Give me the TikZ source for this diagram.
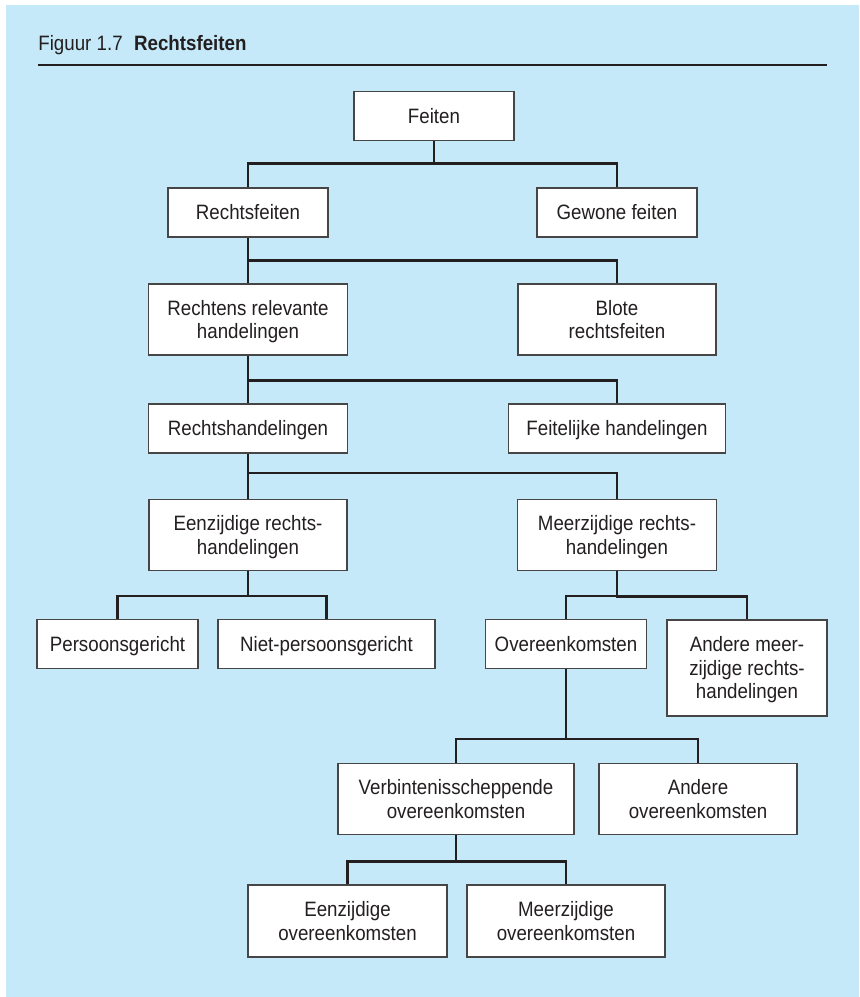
\documentclass[tikz,border=0pt]{standalone}
\usepackage{fontspec}
\setmainfont{Liberation Sans}[FakeStretch=0.9]
\definecolor{achter}{RGB}{197,233,248}
\definecolor{kader}{RGB}{70,70,70}
\definecolor{lijn}{RGB}{35,31,32}
\tikzset{
  vak/.style={draw=kader, fill=white, line width=0.6pt, inner sep=0pt, align=center,
    minimum width=80pt, minimum height=24.5pt, text height=7.3pt, text depth=0pt,
    text=lijn, font=\fontsize{10.4pt}{11.7pt}\selectfont},
  twee/.style={minimum height=35.5pt, text height=19pt},
  drie/.style={minimum height=48pt, text height=30.7pt},
  tak/.style={draw=lijn, line width=1.15pt},
}
\begin{document}
\begin{tikzpicture}[x=0.5pt, y=-0.5pt]
    \useasboundingbox (0,0) rectangle (859,997);
    \fill[achter] (6,5) rectangle (859,997);

    \node[anchor=base west, inner sep=0pt, text=lijn, font=\fontsize{10.4pt}{12pt}\selectfont] (titel) at (38,50)
        {Figuur 1.7\hspace{0.55em}\textbf{Rechtsfeiten}};
    \draw[lijn, line width=1.1pt] (38,65) -- (827,65);

    \node[vak] (feiten) at (434,116) {Feiten};
    \node[vak] (rechtsfeiten) at (248,212.5) {Rechtsfeiten};
    \node[vak] (gewone) at (617,212.5) {Gewone feiten};
    \node[vak, twee, minimum width=99.5pt] (rechtens) at (248,319.5) {Rechtens relevante\\handelingen};
    \node[vak, twee, minimum width=99pt] (blote) at (617,319.5) {Blote\\rechtsfeiten};
    \node[vak, minimum width=99.5pt] (rechtshand) at (248,428.5) {Rechtshandelingen};
    \node[vak, minimum width=108.5pt] (feitelijk) at (617,428.5) {Feitelijke handelingen};
    \node[vak, twee, minimum width=99pt] (eenzijdig) at (248,535) {Eenzijdige rechts-\\handelingen};
    \node[vak, twee, minimum width=99.5pt] (meerzijdig) at (617,535) {Meerzijdige rechts-\\handelingen};
    \node[vak, minimum width=80.5pt] (persoon) at (117.5,644) {Persoonsgericht};
    \node[vak, minimum width=108.5pt] (nietpersoon) at (326.5,644) {Niet-persoonsgericht};
    \node[vak, minimum width=80.5pt] (overeenk) at (566,644) {Overeenkomsten};
    \node[vak, drie] (anderemeer) at (747,668) {Andere meer-\\zijdige rechts-\\handelingen};
    \node[vak, twee, minimum width=118pt] (verbint) at (456,799) {Verbintenisscheppende\\overeenkomsten};
    \node[vak, twee, minimum width=99pt] (andereov) at (698,799) {Andere\\overeenkomsten};
    \node[vak, twee, minimum width=99.5pt, minimum height=36pt] (eenzov) at (347.5,921) {Eenzijdige\\overeenkomsten};
    \node[vak, twee, minimum width=99pt, minimum height=36pt] (meerzov) at (566,921) {Meerzijdige\\overeenkomsten};

    \draw[tak] (rechtsfeiten.north) -- ++(0,-24) -| (feiten.south);
    \draw[tak] (gewone.north) -- ++(0,-24) -| (feiten.south);
    \draw[tak] (rechtens.north) -- ++(0,-23) -| (rechtsfeiten.south);
    \draw[tak] (blote.north) -- ++(0,-23) -| (rechtsfeiten.south);
    \draw[tak] (rechtshand.north) -- ++(0,-23) -| (rechtens.south);
    \draw[tak] (feitelijk.north) -- ++(0,-23) -| (rechtens.south);
    \draw[tak] (eenzijdig.north) -- ++(0,-26) -| (rechtshand.south);
    \draw[tak] (meerzijdig.north) -- ++(0,-26) -| (rechtshand.south);
    \draw[tak] (persoon.north) -- ++(0,-23) -| (eenzijdig.south);
    \draw[tak] (nietpersoon.north) -- ++(0,-23) -| (eenzijdig.south);
    \draw[tak] (overeenk.north) -- ++(0,-23) -| (meerzijdig.south);
    \draw[tak] (anderemeer.north) -- ++(0,-23) -| (meerzijdig.south);
    \draw[tak] (verbint.north) -- ++(0,-24) -| (overeenk.south);
    \draw[tak] (andereov.north) -- ++(0,-24) -| (overeenk.south);
    \draw[tak] (eenzov.north) -- ++(0,-23) -| (verbint.south);
    \draw[tak] (meerzov.north) -- ++(0,-23) -| (verbint.south);
\end{tikzpicture}
\end{document}
